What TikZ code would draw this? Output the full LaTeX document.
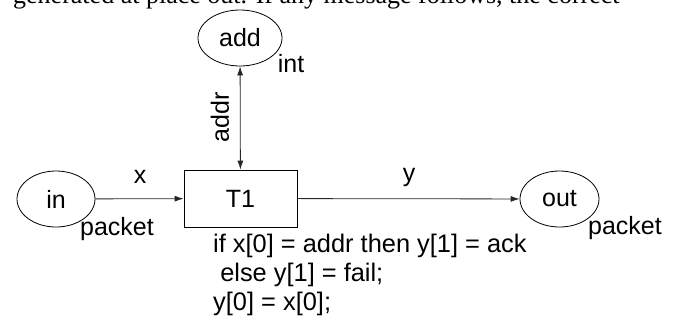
\documentclass[tikz,border=0pt]{standalone}
\usepackage{fontspec}
\setmainfont{Liberation Sans}
\newfontfamily\bodyserif{Liberation Serif}
\usetikzlibrary{shapes.geometric,arrows.meta}

\tikzset{
  place/.style={draw, ellipse, line width=0.8pt, inner sep=0pt},
  transition/.style={draw, rectangle, line width=0.8pt, inner sep=0pt,
    minimum width=113pt, minimum height=57pt},
  lbl/.style={inner sep=0pt},
  arc/.style={draw=black!85, line width=0.8pt,
    -{Latex[length=9pt,width=6pt]}},
  codeline/.style={inner sep=0pt, anchor=base west,
    font=\fontsize{25.4}{30}\selectfont},
}

\begin{document}
\begin{tikzpicture}[x=1pt, y=-1pt, font=\fontsize{25}{30}\selectfont]
  \useasboundingbox (0,0) rectangle (686,325);

  % last line of the preceding paragraph, cut by the page edge
  \begin{scope}
    \clip (0,0) rectangle (686,12);
    \node[inner sep=0pt, anchor=base west, font=\bodyserif\fontsize{26}{30}\selectfont]
      (prev) at (13,3) {generated at place out. If any message follows, the correct};
  \end{scope}

  % places
  \node[place, minimum width=84pt, minimum height=56pt] (add) at (240,38) {add};
  \node[place, minimum width=78pt, minimum height=56pt] (in) at (56,199) {in};
  \node[place, minimum width=79pt, minimum height=56pt] (out) at (559.5,199) {out};

  % transition
  \node[transition] (t1) at (240.5,198.5) {T1};

  % colour sets
  \node[lbl] (addtype) at (291,64) {int};
  \node[lbl] (intype) at (117,229) {packet};
  \node[lbl] (outtype) at (625,228) {packet};

  % arcs
  \draw[arc] (in) -- (t1);
  \draw[arc] (t1) -- (out);
  \draw[arc, {Latex[length=9pt,width=6pt]}-{Latex[length=9pt,width=6pt]}] (add) -- (t1);

  % arc inscriptions
  \node[lbl] (xlab) at (140,177) {x};
  \node[lbl] (ylab) at (409,177) {y};
  \node[lbl, rotate=90] (addrlab) at (220,117) {addr};

  % guard and action code
  \node[codeline] (code1) at (213,252) {if x[0] = addr then y[1] = ack};
  \node[codeline] (code2) at (213,281) {\ else y[1] = fail;};
  \node[codeline] (code3) at (213,310) {y[0] = x[0];};
\end{tikzpicture}
\end{document}
